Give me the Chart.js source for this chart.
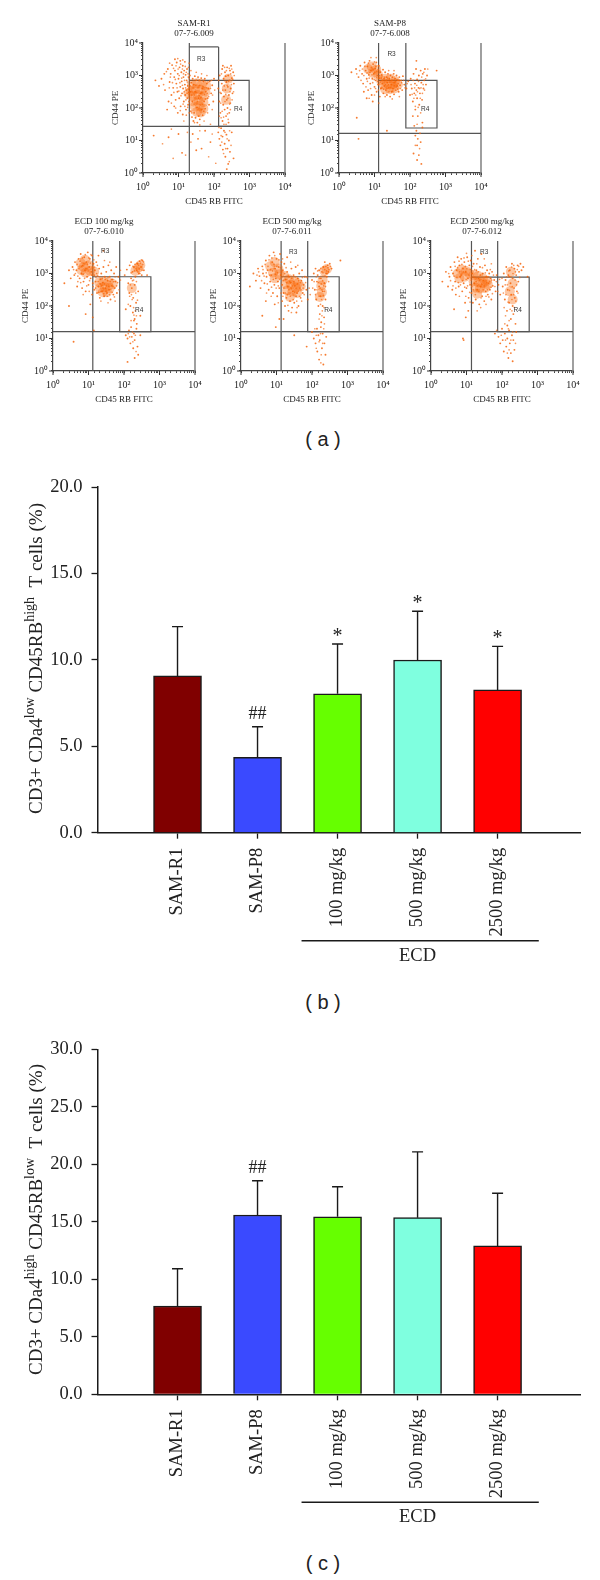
<!DOCTYPE html>
<html>
<head>
<meta charset="utf-8">
<title>CD44 / CD45RB T cells</title>
<script src="https://cdn.jsdelivr.net/npm/chart.js"></script>
<style>
  html, body { margin: 0; padding: 0; background: #fff; }
  #page { position: relative; width: 600px; height: 1580px; overflow: hidden; }
  #page canvas { position: absolute; }
  .caption { position: absolute; left: 273px; width: 100px; text-align: center; color: #222;
             font: 20px "Liberation Sans", sans-serif; white-space: pre; }
</style>
</head>
<body>
<div id="page">
  <div class="caption" style="top:428px">( a )</div>
  <div class="caption" style="top:991px">( b )</div>
  <div class="caption" style="top:1552px">( c )</div>
</div>
<script>
// bar panels
const categories = ["SAM-R1", "SAM-P8", "100 mg/kg", "500 mg/kg", "2500 mg/kg"];
const barColors  = ["#800000", "#3a4aff", "#66ff00", "#7fffdf", "#ff0000"];
const highValues = [9.07, 4.36, 8.04, 9.99, 8.26];
const highTops   = [11.92, 6.13, 10.92, 12.81, 10.78];
const highMarks  = ["", "##", "*", "*", "*"];
const lowValues  = [7.68, 15.59, 15.44, 15.36, 12.90];
const lowTops    = [10.92, 18.57, 18.05, 21.08, 17.48];
const lowMarks   = ["", "##", "", "", ""];
const highTitle  = [["CD3+ CDa4", 0], ["low", 1], [" CD45RB", 0], ["high", 1], ["  T cells (%)", 0]];
const lowTitle   = [["CD3+ CDa4", 0], ["high", 1], [" CD45RB", 0], ["low", 1], ["  T cells (%)", 0]];

// flow cytometry panels, dot positions are read as decades (log10) off the picture
const decadeLabels = ["10⁰", "10¹", "10²", "10³", "10⁴"];

const r1Core = [[1.38,2.72],[1.52,2.76],[1.66,2.74],[1.78,2.68],[1.36,2.52],[1.48,2.58],[1.62,2.56],[1.76,2.5],[1.4,2.36],[1.54,2.4],[1.68,2.36],[1.42,2.2],[1.56,2.24],[1.7,2.18],[1.46,2.04],[1.6,2.06],[1.7,1.98],[1.52,1.88],[1.63,1.86],[1.28,2.45],[2.36,2.6],[2.4,2.9],[2.34,2.25]];
const r1Dots = [
[0.52,2.9],[0.62,2.55],[0.7,3.2],[0.75,2.8],[0.78,3.05],[0.8,2.4],[0.82,3.32],[0.85,2.62],[0.88,2.95],[0.9,3.15],[0.92,2.25],[0.94,2.75],[0.95,3.4],[0.97,2.5],[0.98,3.05],
[1.0,2.9],[1.02,2.3],[1.03,3.25],[1.05,2.65],[1.06,2.05],[1.08,3.1],[1.09,2.82],[1.1,2.45],[1.12,3.3],[1.13,2.6],[1.14,2.95],[1.15,2.2],[1.16,3.15],[1.18,2.72],[1.19,2.4],[1.2,3.02],[1.21,1.95],[1.22,2.55],[1.23,2.85],[1.24,3.2],[1.25,2.3],[1.26,2.68],[1.27,2.1],[1.28,2.95],[1.29,2.48],
[0.88,2.05],[0.72,2.2],[0.6,3.05],[0.98,1.85],[1.12,1.8],[1.05,3.45],[0.9,3.5],[0.45,2.68],[0.68,1.95],[1.18,3.42],
[1.32,3.0],[1.34,2.5],[1.35,1.9],[1.36,2.78],[1.38,1.72],[1.39,2.2],[1.4,2.9],[1.42,1.6],[1.43,2.72],[1.44,1.85],[1.46,2.98],[1.47,2.5],[1.48,1.7],[1.5,2.85],[1.52,2.02],[1.53,1.55],[1.55,2.95],[1.56,2.3],[1.57,1.75],[1.59,2.85],[1.6,1.65],[1.62,2.45],[1.64,2.92],[1.65,1.95],[1.67,2.6],[1.68,1.78],[1.7,2.82],[1.72,2.2],[1.74,2.9],[1.75,1.98],[1.77,2.5],[1.8,2.75],[1.82,2.3],[1.84,2.6],[1.86,2.1],[1.88,2.82],[1.92,2.45],[1.95,2.7],[1.98,2.2],[2.0,2.9],
[2.12,2.6],[2.15,2.2],[2.16,3.0],[2.18,1.85],[2.2,2.45],[2.22,2.75],[2.23,3.2],[2.24,1.6],[2.26,2.1],[2.27,2.9],[2.28,2.35],[2.3,1.95],[2.31,3.1],[2.32,2.55],[2.34,1.75],[2.35,2.8],[2.36,2.25],[2.37,3.25],[2.38,2.0],[2.39,2.65],[2.4,3.0],[2.41,1.55],[2.42,2.4],[2.44,2.85],[2.45,3.15],[2.46,2.15],[2.47,2.6],[2.48,3.3],[2.5,2.92],[2.52,2.45],[2.54,3.1],[2.56,2.75],[2.25,3.3],[2.43,1.85],[2.33,2.98],
[1.4,1.2],[1.55,1.05],[1.75,1.3],[1.1,0.62],[1.5,0.7],[0.72,1.1],[1.9,0.95],[2.12,1.25],[2.15,1.05],[2.18,0.85],[2.2,1.38],[2.24,1.12],[2.25,0.72],[2.28,1.3],[2.3,0.9],[2.32,0.5],[2.35,1.18],[2.38,0.75],[2.4,0.28],[2.42,1.0],[2.45,0.65],[2.36,0.12],[2.5,1.25],[2.55,0.45],[0.35,2.85],[1.0,1.2],[0.3,1.15],[1.65,0.75]];
const r1Fine = [
[0.58,2.72],[0.66,3.12],[0.74,2.62],[0.77,2.95],[0.83,2.78],[0.86,3.22],[0.87,2.48],[0.91,2.88],[0.93,3.3],[0.96,2.62],[0.99,3.2],[1.01,2.52],[1.02,3.0],[1.04,2.78],[1.06,3.35],[1.07,2.38],[1.09,2.92],[1.11,2.7],[1.11,3.2],[1.13,2.12],[1.14,3.05],[1.16,2.5],[1.17,2.85],[1.19,3.28],[1.2,2.62],[1.21,2.25],[1.22,3.1],[1.24,2.45],[1.25,2.8],[1.26,2.02],[1.27,3.05],[1.28,2.58],[1.29,2.2],[1.3,2.9],[1.31,2.62],[0.8,2.15],[0.92,2.0],[1.05,1.92],[1.18,2.05],[0.75,3.38],[0.98,3.52],[1.12,3.48],[1.28,3.25],[1.3,3.38],[1.22,1.78],[1.15,1.6],[1.3,1.85],
[1.33,2.68],[1.37,2.4],[1.41,2.62],[1.44,2.12],[1.45,2.4],[1.49,2.7],[1.51,2.48],[1.53,2.2],[1.55,2.62],[1.58,2.38],[1.6,2.7],[1.61,2.1],[1.63,2.32],[1.66,2.48],[1.67,2.12],[1.69,2.66],[1.71,1.9],[1.73,2.42],[1.76,2.28],[1.78,2.62],[1.81,2.45],[1.83,2.8],[1.85,2.35],[1.9,2.6],[1.93,2.85],[1.96,2.4],[1.37,1.85],[1.45,1.55],[1.6,1.48],[1.72,1.6],[1.82,1.85],[1.95,1.95],[2.02,2.55],[1.9,1.5],[1.35,3.15],[1.5,3.1],[1.65,3.05],[1.8,3.0],
[2.13,2.85],[2.17,2.48],[2.19,2.15],[2.21,3.05],[2.23,1.9],[2.25,2.55],[2.27,1.72],[2.29,2.68],[2.3,3.25],[2.31,2.2],[2.33,2.42],[2.34,1.5],[2.35,3.15],[2.37,2.7],[2.38,1.82],[2.39,2.3],[2.41,2.82],[2.43,3.22],[2.44,2.12],[2.45,2.5],[2.46,1.95],[2.47,3.05],[2.49,2.72],[2.5,3.2],[2.51,2.25],[2.53,2.88],[2.55,2.5],[2.57,3.0],[2.2,1.7],[2.28,1.5],[2.4,1.65],[2.15,1.75],
[2.14,1.4],[2.2,1.15],[2.22,0.95],[2.27,0.6],[2.31,1.25],[2.33,0.75],[2.37,1.05],[2.43,0.35],[2.44,1.3],[2.48,0.85],[1.25,1.25],[1.6,1.3],[1.35,0.95],[1.2,0.55],[0.85,0.45],[1.85,0.5],[1.95,1.2],[2.05,0.3],[0.55,0.9],[0.8,1.35]];

const p8Core = [[1.18,2.85],[1.3,2.9],[1.45,2.9],[1.58,2.82],[1.25,2.72],[1.38,2.74],[1.52,2.72],[1.66,2.72],[1.3,2.58],[1.44,2.58],[1.56,2.6],[0.82,3.2],[0.92,3.28],[0.95,3.08],[1.05,3.18],[1.1,3.02]];
const p8Dots = [
[0.35,3.1],[0.48,3.2],[0.55,2.95],[0.6,3.3],[0.65,3.05],[0.68,2.75],[0.72,3.4],[0.75,3.15],[0.78,2.9],[0.8,3.28],[0.82,2.55],[0.84,3.02],[0.86,3.45],[0.88,2.75],[0.9,3.15],[0.92,2.4],[0.94,2.9],[0.96,3.35],[0.98,3.05],[1.0,2.65],[1.02,3.22],[1.03,2.85],[1.05,3.4],[1.06,2.5],[1.08,3.0],[1.1,2.72],[1.12,3.3],[1.13,2.92],[1.15,2.35],[1.16,3.1],[0.7,2.5],[0.95,2.2],[0.78,2.3],
[1.18,2.6],[1.2,3.02],[1.22,2.75],[1.24,3.18],[1.25,2.45],[1.27,2.9],[1.28,2.68],[1.3,3.1],[1.32,2.55],[1.34,2.95],[1.35,2.4],[1.36,2.78],[1.38,3.05],[1.4,2.62],[1.42,2.9],[1.44,2.35],[1.45,3.0],[1.47,2.72],[1.48,2.5],[1.5,2.95],[1.52,2.6],[1.54,3.05],[1.55,2.42],[1.57,2.78],[1.58,2.9],[1.6,2.55],[1.62,3.0],[1.64,2.68],[1.66,2.85],[1.68,2.5],[1.7,2.95],[1.72,2.7],[1.75,2.85],[1.78,2.55],[1.8,2.98],[1.84,2.72],[1.9,2.6],[1.95,2.82],
[2.0,2.4],[2.02,2.9],[2.05,2.6],[2.08,2.2],[2.1,3.05],[2.12,2.45],[2.14,2.75],[2.15,1.95],[2.17,3.2],[2.18,2.55],[2.2,2.3],[2.2,2.88],[2.22,1.75],[2.24,2.62],[2.25,3.0],[2.26,2.1],[2.28,2.45],[2.3,3.15],[2.32,2.78],[2.34,2.25],[2.35,1.55],[2.36,3.05],[2.38,2.6],[2.4,2.85],[2.42,3.2],[2.45,2.72],[2.48,3.0],[2.18,3.45],[2.75,3.15],
[2.08,1.75],[2.12,1.45],[2.15,1.15],[2.18,1.3],[2.2,0.85],[2.22,1.05],[2.25,0.55],[2.28,1.22],[2.3,0.95],[2.32,0.28],[2.1,0.6],[2.35,1.4],[2.2,0.4],[0.5,1.7],[0.55,1.05],[1.35,1.3]];
const p8Fine = [
[0.5,3.05],[0.58,3.15],[0.62,2.85],[0.66,3.2],[0.7,3.0],[0.73,3.28],[0.76,2.65],[0.79,3.08],[0.8,2.82],[0.83,3.38],[0.85,2.92],[0.87,3.1],[0.89,2.6],[0.91,3.25],[0.93,3.02],[0.95,2.78],[0.97,3.18],[0.99,2.88],[1.0,3.42],[1.01,3.1],[1.03,2.6],[1.04,3.28],[1.06,2.95],[1.07,3.12],[1.09,2.82],[1.1,3.18],[1.11,2.55],[1.14,3.0],[0.85,2.3],[1.0,2.4],[1.12,2.15],[0.9,3.55],[1.05,3.55],
[1.17,2.8],[1.19,2.92],[1.21,2.62],[1.23,2.85],[1.26,2.58],[1.29,2.95],[1.31,2.72],[1.33,2.85],[1.35,2.6],[1.37,2.92],[1.39,2.72],[1.41,2.5],[1.43,2.8],[1.46,2.62],[1.49,2.85],[1.51,2.52],[1.53,2.78],[1.56,2.68],[1.59,2.82],[1.61,2.65],[1.63,2.88],[1.65,2.58],[1.67,2.75],[1.69,2.85],[1.73,2.6],[1.76,2.78],[1.82,2.85],[1.86,2.62],[1.92,2.75],[1.4,3.15],[1.55,3.15],[1.3,2.35],[1.5,2.28],[1.7,2.35],
[2.03,2.72],[2.06,2.42],[2.09,2.85],[2.11,2.3],[2.13,2.62],[2.16,2.4],[2.19,2.7],[2.21,2.5],[2.23,2.02],[2.24,2.82],[2.27,2.6],[2.29,2.3],[2.31,2.62],[2.33,2.95],[2.35,2.45],[2.37,2.72],[2.39,3.1],[2.41,2.55],[2.44,2.9],[2.5,3.2],[2.15,2.05],[2.3,1.85],[2.2,1.5],[2.27,0.75],[2.15,0.85]];

const e100Core = [[0.78,3.32],[0.9,3.42],[1.02,3.25],[0.86,3.2],[1.05,3.08],[0.92,3.02],[0.8,3.1],[1.16,3.05],[1.3,2.72],[1.42,2.76],[1.56,2.72],[1.68,2.68],[1.32,2.55],[1.46,2.58],[1.6,2.55],[1.4,2.42],[1.52,2.42],[2.32,3.08],[2.4,3.18],[2.46,3.25],[2.22,2.55]];
const e100Dots = [
[0.32,2.7],[0.45,3.1],[0.5,2.85],[0.55,3.2],[0.6,2.95],[0.62,3.35],[0.66,3.1],[0.68,2.6],[0.72,3.45],[0.75,2.85],[0.78,3.6],[0.8,3.0],[0.82,2.55],[0.84,3.25],[0.86,2.75],[0.88,3.5],[0.9,3.1],[0.92,2.45],[0.94,3.35],[0.96,2.9],[0.98,3.65],[1.0,2.65],[1.02,3.2],[1.04,3.45],[1.06,2.85],[1.08,3.05],[1.1,2.35],[1.1,3.55],[1.12,2.7],[1.14,3.3],[1.16,2.95],[0.92,1.75],[1.05,2.05],[1.12,1.65],[1.15,1.25],[0.45,2.0],[0.58,0.9],
[1.16,2.5],[1.18,3.1],[1.2,2.75],[1.22,3.35],[1.24,2.4],[1.26,2.92],[1.28,2.6],[1.3,3.15],[1.32,2.25],[1.34,2.82],[1.36,3.0],[1.38,2.45],[1.4,2.72],[1.42,3.2],[1.44,2.3],[1.46,2.9],[1.48,2.55],[1.5,3.05],[1.52,2.4],[1.54,2.78],[1.56,3.25],[1.58,2.5],[1.6,2.9],[1.62,2.2],[1.64,3.1],[1.66,2.62],[1.68,2.82],[1.7,2.35],[1.72,3.0],[1.74,2.55],[1.76,2.75],[1.78,3.2],[1.8,2.4],[1.84,2.9],[1.28,3.55],[1.42,3.7],
[2.02,2.95],[2.08,3.12],[2.12,2.7],[2.15,2.4],[2.16,3.25],[2.18,2.0],[2.2,2.85],[2.22,2.55],[2.24,3.05],[2.25,1.8],[2.26,2.25],[2.28,3.2],[2.3,2.65],[2.3,1.6],[2.32,2.9],[2.34,2.1],[2.36,3.1],[2.36,1.45],[2.38,3.3],[2.4,2.45],[2.42,3.0],[2.44,3.38],[2.46,1.7],[2.48,3.2],[2.5,2.95],[2.52,3.4],[2.56,3.1],[2.65,2.95],[2.2,3.35],[2.05,1.9],[2.28,1.55],
[2.05,1.1],[2.1,1.0],[2.14,1.25],[2.18,0.85],[2.2,1.35],[2.22,1.05],[2.26,0.7],[2.28,1.15],[2.3,0.95],[2.35,1.3],[2.38,0.75],[2.4,0.5],[2.3,0.4],[2.1,0.28],[2.46,1.1]];
const e100Fine = [
[0.58,3.12],[0.63,3.0],[0.68,3.28],[0.7,2.92],[0.73,3.15],[0.76,3.38],[0.78,2.72],[0.81,3.22],[0.83,3.48],[0.85,2.98],[0.87,3.3],[0.89,2.85],[0.91,3.58],[0.93,3.15],[0.95,2.62],[0.97,3.28],[0.99,3.08],[1.01,3.48],[1.03,2.78],[1.05,3.32],[1.07,3.58],[1.09,2.95],[1.11,3.2],[1.13,2.6],[1.15,3.42],[0.85,2.35],[1.02,2.45],[0.7,2.75],[1.17,3.2],[1.2,2.55],[1.23,3.0],[1.25,3.25],
[1.21,2.88],[1.27,2.75],[1.29,2.42],[1.31,2.9],[1.33,2.68],[1.35,2.45],[1.37,2.62],[1.39,2.85],[1.41,2.55],[1.43,2.38],[1.45,2.68],[1.47,2.82],[1.49,2.45],[1.51,2.62],[1.53,2.3],[1.55,2.88],[1.57,2.6],[1.59,2.35],[1.61,2.75],[1.63,2.52],[1.65,2.82],[1.67,2.42],[1.69,2.6],[1.71,2.75],[1.73,2.28],[1.75,2.9],[1.79,2.62],[1.82,2.72],[1.86,2.5],[1.9,2.8],[1.35,2.15],[1.55,2.1],[1.75,2.15],[1.45,3.4],[1.6,3.35],[1.9,3.1],
[2.2,3.02],[2.25,3.22],[2.27,2.8],[2.29,3.08],[2.31,3.28],[2.33,2.4],[2.34,3.15],[2.35,2.75],[2.37,3.32],[2.38,2.18],[2.39,3.05],[2.41,3.25],[2.43,3.15],[2.45,3.0],[2.47,3.32],[2.49,3.42],[2.51,3.1],[2.53,3.28],[2.55,3.36],[2.18,2.65],[2.21,2.35],[2.24,2.78],[2.27,1.95],[2.23,2.2],[2.32,1.85],[2.35,1.7],[2.28,1.72],[2.2,1.55],[2.16,2.3],[2.12,2.05],
[2.12,1.15],[2.16,1.05],[2.24,1.2],[2.32,1.1],[2.25,0.9],[2.34,0.6]];

const e500Core = [[0.82,3.22],[0.95,3.35],[1.05,3.15],[0.9,3.02],[1.08,2.98],[0.95,2.85],[1.22,2.92],[1.35,2.82],[1.5,2.78],[1.6,2.7],[1.26,2.68],[1.4,2.65],[1.54,2.58],[1.68,2.6],[1.3,2.48],[1.45,2.45],[1.58,2.4],[1.38,2.28],[2.26,2.62],[2.28,2.42],[2.22,2.28],[2.35,3.08],[2.42,3.14],[2.3,2.8]];
const e500Dots = [
[0.25,2.6],[0.35,3.0],[0.42,2.78],[0.48,3.15],[0.52,2.92],[0.55,2.55],[0.6,3.22],[0.62,3.0],[0.66,2.7],[0.7,3.4],[0.72,2.9],[0.75,3.1],[0.78,2.5],[0.8,3.55],[0.82,2.75],[0.85,2.95],[0.88,3.35],[0.9,2.4],[0.92,3.65],[0.94,2.65],[0.96,3.15],[0.98,2.85],[1.0,3.45],[1.02,2.3],[1.04,2.75],[1.06,3.2],[1.08,2.55],[1.1,3.6],[1.12,2.95],[1.14,3.35],[1.16,2.15],[0.95,2.05],[0.7,2.15],[0.6,1.7],[0.98,1.35],[1.08,1.6],
[1.16,2.65],[1.18,3.1],[1.2,2.4],[1.22,3.3],[1.24,2.0],[1.26,2.82],[1.28,2.25],[1.3,3.05],[1.32,2.6],[1.34,1.85],[1.36,2.9],[1.38,2.15],[1.4,2.72],[1.42,3.15],[1.44,1.95],[1.46,2.45],[1.48,2.95],[1.5,2.1],[1.52,2.62],[1.54,3.2],[1.56,1.8],[1.58,2.4],[1.6,2.85],[1.62,2.0],[1.64,3.0],[1.66,2.55],[1.68,2.25],[1.7,2.78],[1.72,3.1],[1.74,2.4],[1.76,2.65],[1.8,2.9],[1.84,2.5],[1.88,2.2],[1.3,3.5],[1.55,2.3],[1.2,1.6],[1.5,1.1],
[2.0,2.8],[2.05,3.0],[2.08,2.5],[2.1,3.15],[2.12,2.2],[2.14,2.75],[2.16,2.95],[2.18,2.0],[2.2,2.6],[2.2,3.1],[2.22,1.75],[2.24,2.3],[2.25,2.85],[2.26,1.5],[2.28,3.05],[2.3,2.45],[2.3,2.0],[2.32,3.2],[2.34,1.65],[2.35,2.7],[2.36,3.35],[2.38,2.2],[2.4,3.0],[2.42,2.9],[2.44,3.25],[2.46,3.05],[2.5,3.3],[2.55,3.15],[2.8,3.4],
[2.0,1.2],[2.05,1.0],[2.1,0.85],[2.14,1.3],[2.15,0.6],[2.18,1.1],[2.2,0.35],[2.22,0.95],[2.25,1.35],[2.28,0.7],[2.3,1.15],[2.32,0.2],[2.35,0.85],[2.38,0.5],[2.4,1.05],[1.85,0.75]];
const e500Fine = [
[0.45,2.95],[0.5,3.05],[0.58,2.78],[0.62,3.12],[0.65,2.92],[0.68,3.28],[0.71,3.02],[0.74,2.68],[0.76,3.22],[0.79,3.42],[0.81,2.95],[0.83,3.12],[0.86,2.58],[0.87,3.48],[0.89,3.08],[0.91,2.82],[0.93,3.28],[0.95,3.55],[0.97,2.98],[0.99,2.55],[1.01,3.22],[1.03,3.02],[1.05,2.62],[1.07,3.42],[1.09,2.82],[1.11,3.18],[1.13,2.4],[1.15,3.05],[1.17,3.45],[0.85,2.3],[1.05,2.1],[1.18,2.3],[0.72,2.4],
[1.19,2.78],[1.21,2.55],[1.23,3.0],[1.25,2.4],[1.27,3.18],[1.29,2.72],[1.31,2.35],[1.33,2.92],[1.35,2.5],[1.37,2.75],[1.39,2.3],[1.41,2.55],[1.43,2.85],[1.45,2.62],[1.47,2.2],[1.49,2.75],[1.51,2.42],[1.53,2.9],[1.55,2.55],[1.57,2.15],[1.59,2.68],[1.61,2.45],[1.63,2.78],[1.65,2.3],[1.67,2.72],[1.69,2.5],[1.71,2.15],[1.73,2.88],[1.75,2.55],[1.78,2.35],[1.82,2.72],[1.86,2.88],[1.92,2.55],[1.95,2.35],[1.32,2.02],[1.42,1.8],[1.58,1.95],[1.4,3.35],[1.6,3.25],
[2.02,2.55],[2.06,2.75],[2.1,2.35],[2.12,2.9],[2.14,2.5],[2.16,3.08],[2.18,2.72],[2.2,2.3],[2.21,2.85],[2.23,2.55],[2.24,2.05],[2.25,3.15],[2.26,2.68],[2.27,2.2],[2.28,2.5],[2.29,1.85],[2.3,2.78],[2.31,3.02],[2.32,2.32],[2.33,2.62],[2.34,1.95],[2.35,2.45],[2.36,3.12],[2.37,2.92],[2.38,2.6],[2.39,3.22],[2.41,3.08],[2.43,3.0],[2.45,3.18],[2.47,2.75],[2.48,3.12],[2.52,3.22],[2.2,1.6],[2.28,1.7],[2.35,1.45],
[2.08,1.3],[2.12,1.1],[2.2,0.9],[2.24,1.15],[2.26,0.5],[2.3,0.85],[2.33,1.3],[2.25,0.25],[2.12,0.7]];

const e2500Core = [[0.75,3.0],[0.86,3.12],[0.98,3.08],[0.8,2.85],[0.95,2.9],[1.08,3.0],[1.2,2.95],[1.33,2.92],[1.46,2.85],[1.58,2.78],[1.2,2.76],[1.33,2.72],[1.46,2.7],[1.6,2.66],[1.25,2.56],[1.38,2.54],[1.52,2.55],[1.3,2.38],[2.25,3.05],[2.3,2.7],[2.22,2.45],[2.3,2.2]];
const e2500Dots = [
[0.32,2.75],[0.42,3.05],[0.48,2.6],[0.52,2.9],[0.55,3.2],[0.6,2.5],[0.62,3.0],[0.66,3.35],[0.68,2.75],[0.7,2.35],[0.72,3.1],[0.75,3.5],[0.78,2.6],[0.8,3.25],[0.82,2.9],[0.85,3.45],[0.88,2.45],[0.9,3.15],[0.92,2.7],[0.94,3.35],[0.96,2.1],[0.98,3.05],[1.0,2.55],[1.02,3.5],[1.04,2.85],[1.06,2.25],[1.08,3.25],[1.1,2.65],[1.12,3.4],[0.98,1.65],[1.05,1.85],[0.92,0.95],[0.65,1.9],
[1.14,2.4],[1.16,3.0],[1.18,2.1],[1.2,3.3],[1.22,2.7],[1.24,3.7],[1.26,2.2],[1.28,3.1],[1.3,2.5],[1.32,3.45],[1.34,2.85],[1.36,2.05],[1.38,3.2],[1.4,2.6],[1.42,3.6],[1.44,2.3],[1.46,3.0],[1.48,2.78],[1.5,2.15],[1.52,3.25],[1.54,2.45],[1.56,2.9],[1.58,3.1],[1.6,2.35],[1.62,2.7],[1.64,3.0],[1.66,2.5],[1.68,2.85],[1.7,2.2],[1.72,3.05],[1.74,2.62],[1.78,2.8],[1.82,2.45],[1.85,2.95],[1.9,2.65],[1.95,2.35],
[2.02,2.6],[2.05,3.0],[2.08,2.2],[2.1,2.8],[2.12,3.2],[2.14,1.85],[2.16,2.5],[2.18,2.95],[2.2,2.1],[2.22,3.1],[2.24,2.7],[2.25,1.6],[2.26,2.35],[2.28,3.3],[2.3,2.0],[2.3,2.85],[2.32,1.75],[2.34,2.55],[2.35,3.15],[2.36,2.25],[2.38,1.45],[2.4,2.95],[2.42,2.45],[2.44,3.25],[2.46,2.75],[2.48,3.05],[2.52,3.3],[2.55,3.1],[2.6,3.2],[2.72,2.9],[2.2,2.9],[2.15,1.4],
[1.8,1.15],[1.9,1.05],[1.95,0.85],[2.0,1.3],[2.02,0.95],[2.05,0.6],[2.08,1.15],[2.12,0.75],[2.15,1.0],[2.18,0.4],[2.2,1.25],[2.22,0.85],[2.25,0.55],[2.28,1.1],[2.3,0.3],[2.32,0.95],[2.35,0.65],[2.4,1.2],[0.9,1.0]];
const e2500Fine = [
[0.5,3.0],[0.55,2.78],[0.58,3.1],[0.62,2.62],[0.65,2.92],[0.68,3.22],[0.7,2.55],[0.73,2.88],[0.75,3.18],[0.77,2.72],[0.79,3.38],[0.81,3.05],[0.83,2.65],[0.85,2.95],[0.87,3.28],[0.89,2.78],[0.91,3.05],[0.93,3.48],[0.95,2.58],[0.97,3.22],[0.99,2.82],[1.01,3.15],[1.03,2.62],[1.05,3.38],[1.07,2.95],[1.09,2.42],[1.11,3.12],[1.13,2.8],[0.8,2.3],[0.98,2.3],[1.1,2.12],[1.0,3.62],[1.15,3.55],
[1.15,2.6],[1.17,3.22],[1.19,2.5],[1.21,2.88],[1.23,3.12],[1.25,2.35],[1.27,2.75],[1.29,3.3],[1.31,2.62],[1.33,3.05],[1.35,2.45],[1.37,2.8],[1.39,2.95],[1.41,2.25],[1.43,2.68],[1.45,3.18],[1.47,2.5],[1.49,2.88],[1.51,2.62],[1.53,3.02],[1.55,2.3],[1.57,2.72],[1.59,2.5],[1.61,2.9],[1.63,2.28],[1.65,2.75],[1.67,3.12],[1.69,2.58],[1.71,2.8],[1.73,2.38],[1.76,2.95],[1.8,2.6],[1.84,2.75],[1.88,2.45],[1.93,2.82],[1.4,1.95],[1.55,2.05],[1.3,1.85],[1.5,3.45],[1.7,3.3],
[2.0,2.85],[2.04,2.4],[2.06,1.95],[2.09,2.65],[2.11,2.35],[2.13,2.9],[2.15,2.65],[2.17,2.12],[2.19,3.08],[2.21,2.48],[2.23,1.9],[2.25,2.9],[2.27,3.2],[2.28,2.2],[2.29,2.6],[2.31,3.0],[2.33,2.35],[2.33,3.25],[2.35,1.95],[2.37,2.8],[2.38,3.05],[2.39,2.15],[2.41,2.65],[2.43,3.12],[2.45,2.4],[2.47,3.22],[2.5,2.88],[2.1,1.7],[2.2,1.55],[2.28,1.85],[2.18,1.3],[2.08,1.45],
[1.85,1.25],[1.98,1.1],[2.1,0.95],[2.15,0.55],[2.25,0.95],[2.3,1.2],[2.2,0.65],[2.38,0.85]];

const facsTitles = [["SAM-R1", "07-7-6.009"], ["SAM-P8", "07-7-6.008"], ["ECD 100 mg/kg", "07-7-6.010"], ["ECD 500 mg/kg", "07-7-6.011"], ["ECD 2500 mg/kg", "07-7-6.012"]];

// gate lines in decades: x of the quadrant, y of the quadrant, R3 right, R4 right, R3/R4 split, R3 top, R4 bottom
const r1Gate    = [1.305, 1.436, 2.13, 2.99, 2.85, 3.88, 1.436];
const p8Gate    = [1.115, 1.22, 1.883, 2.76, 2.85, 4, 1.385];
const e100Gate  = [1.121, 1.213, 1.879, 2.757, 2.9, 4, 1.213];
const e500Gate  = [1.13, 1.213, 1.879, 2.766, 2.9, 4, 1.213];
const e2500Gate = [1.14, 1.213, 1.878, 2.766, 2.89, 4, 1.213];

// gate label anchors in decades
const r1Labels    = [[1.64, 3.51], [2.68, 1.97]];
const p8Labels    = [[1.48, 3.64], [2.43, 1.95]];
const e100Labels  = [[1.47, 3.68], [2.43, 1.87]];
const e500Labels  = [[1.47, 3.66], [2.46, 1.86]];
const e2500Labels = [[1.50, 3.66], [2.44, 1.86]];

const serif = '"Liberation Serif", serif';

function toPoints(list) {
    return list.map((p) => ({x: Math.pow(10, p[0]), y: Math.pow(10, p[1])}));
}

function addCanvas(left, top, width, height) {
    const canvas = document.createElement("canvas");
    canvas.width = width;
    canvas.height = height;
    canvas.style.left = left + "px";
    canvas.style.top = top + "px";
    canvas.style.width = width + "px";
    canvas.style.height = height + "px";
    document.getElementById("page").appendChild(canvas);
    return canvas;
}

function decadeTick(v) {
    const i = Math.round(Math.log10(v) * 1e6) / 1e6;
    return Number.isInteger(i) ? decadeLabels[i] : "";
}

/* longer ticks on the decades and the R3, R4 names */
const facsExtras = {
    id: "facsExtras",
    afterDatasetsDraw(chart, args, opts) {
        const ctx = chart.ctx;
        const sx = chart.scales.x, sy = chart.scales.y;
        ctx.save();
        ctx.strokeStyle = "#333";
        ctx.lineWidth = 1;
        decadeLabels.forEach((label, i) => {
            const v = Math.pow(10, i);
            ctx.beginPath();
            ctx.moveTo(sx.getPixelForValue(v), sy.bottom);
            ctx.lineTo(sx.getPixelForValue(v), sy.bottom + 4);
            ctx.moveTo(sx.left, sy.getPixelForValue(v));
            ctx.lineTo(sx.left - 4, sy.getPixelForValue(v));
            ctx.stroke();
        });
        ctx.fillStyle = "#333";
        ctx.font = '6.5px "Liberation Sans", sans-serif';
        ctx.textAlign = "center";
        ctx.textBaseline = "middle";
        ["R3", "R4"].forEach((name, i) => {
            ctx.fillText(name, sx.getPixelForValue(Math.pow(10, opts.labels[i][0])), sy.getPixelForValue(Math.pow(10, opts.labels[i][1])));
        });
        ctx.restore();
    }
};

function facsChart(axisLeft, plotTop, title, dots, fine, core, gate, labels) {
    const pad = 40, plotWidth = 142, plotHeight = 130;
    const canvas = addCanvas(axisLeft - pad, plotTop - 32, plotWidth + 2 * pad, 32 + plotHeight + 37);
    const gx = gate[0], gy = gate[1], r3 = gate[2], r4 = gate[3], split = gate[4], top = gate[5], low = gate[6];
    const gateLines = [
        [[gx, 0], [gx, 4]],
        [[0, gy], [4, gy]],
        [[4, 0], [4, 4]],
        [[gx, split], [r4, split], [r4, low], [r3, low], [r3, top]]
    ];
    if (top < 4) { gateLines.push([[gx, top], [r3, top]]); }
    const lineSets = gateLines.map((line, i) => ({
        data: toPoints(line),
        showLine: true,
        borderColor: i === 2 ? "#888" : "#555",
        borderWidth: i === 2 ? 1.6 : 1.2,
        pointRadius: 0,
        clip: false
    }));
    new Chart(canvas, {
        type: "scatter",
        data: {
            datasets: [
                {data: toPoints(core), backgroundColor: "rgba(250,100,0,0.36)", pointRadius: 5, pointBorderWidth: 0},
                {data: toPoints(fine), backgroundColor: "rgba(245,105,20,0.7)", pointRadius: 0.85, pointBorderWidth: 0},
                {data: toPoints(dots), backgroundColor: "rgba(245,100,10,0.85)", pointRadius: 0.95, pointBorderWidth: 0}
            ].concat(lineSets)
        },
        options: {
            responsive: false,
            animation: false,
            layout: {padding: {top: 0, left: 0, right: pad, bottom: 0}},
            plugins: {
                legend: {display: false},
                tooltip: {enabled: false},
                title: {display: true, text: title, color: "#222", padding: {top: 8, bottom: 4},
                    font: {family: serif, size: 9, lineHeight: 1.11, weight: "normal"}},
                facsExtras: {labels: labels}
            },
            scales: {
                x: {
                    type: "logarithmic", min: 1, max: 10000,
                    grid: {drawOnChartArea: false, tickLength: 2, tickColor: "#444"},
                    border: {color: "#444", width: 1.2},
                    ticks: {autoSkip: false, maxRotation: 0, padding: 6, color: "#222", font: {family: serif, size: 10}, callback: decadeTick},
                    title: {display: true, text: "CD45 RB FITC", color: "#222", padding: 3, font: {family: serif, size: 9}},
                    afterFit: (s) => { s.height = 37; s.paddingLeft = 0; s.paddingRight = 0; }
                },
                y: {
                    type: "logarithmic", min: 1, max: 10000,
                    grid: {drawOnChartArea: false, tickLength: 2, tickColor: "#444"},
                    border: {color: "#444", width: 1.2},
                    ticks: {autoSkip: false, padding: 3, color: "#222", font: {family: serif, size: 10}, callback: decadeTick},
                    title: {display: true, text: "CD44 PE", color: "#222", padding: 7, font: {family: serif, size: 9}},
                    afterFit: (s) => { s.width = pad; s.paddingTop = 0; s.paddingBottom = 0; }
                }
            }
        },
        plugins: [facsExtras]
    });
}

/* error bars, marks over them, the ECD bracket and the y title with its superscripts */
const barExtras = {
    id: "barExtras",
    afterDatasetsDraw(chart, args, opts) {
        const ctx = chart.ctx;
        const sx = chart.scales.x, sy = chart.scales.y;
        ctx.save();
        ctx.strokeStyle = "#1a1a1a";
        ctx.fillStyle = "#222";
        ctx.lineWidth = 1.4;
        ctx.textAlign = "center";
        ctx.textBaseline = "alphabetic";
        opts.values.forEach((value, i) => {
            const x = sx.getPixelForValue(i);
            const yTop = sy.getPixelForValue(opts.tops[i]);
            ctx.beginPath();
            ctx.moveTo(x, sy.getPixelForValue(value));
            ctx.lineTo(x, yTop);
            ctx.moveTo(x - 5.5, yTop);
            ctx.lineTo(x + 5.5, yTop);
            ctx.stroke();
            if (opts.marks[i] === "*") {
                ctx.font = "20px " + serif;
                ctx.fillText("*", x, yTop - 2);
            }
            if (opts.marks[i] === "##") {
                ctx.font = "18px " + serif;
                ctx.fillText("##", x, yTop - 8);
            }
        });

        const yLine = sy.bottom + 108;
        ctx.lineWidth = 1.5;
        ctx.beginPath();
        ctx.moveTo(sx.getPixelForValue(1.55), yLine);
        ctx.lineTo(sx.getPixelForValue(4.515), yLine);
        ctx.stroke();
        ctx.font = "18.5px " + serif;
        ctx.fillText("ECD", sx.getPixelForValue(3), yLine + 20);

        ctx.translate(41.5, opts.titleStart);
        ctx.rotate(-Math.PI / 2);
        ctx.textAlign = "left";
        let offset = 0;
        opts.title.forEach((part) => {
            ctx.font = (part[1] ? "14px " : "19px ") + serif;
            ctx.fillText(part[0], offset, part[1] ? -8 : 0);
            offset += ctx.measureText(part[0]).width;
        });
        ctx.restore();
    }
};

function barChart(top, plotTop, plotBottom, yMax, values, tops, marks, title, titleStart) {
    const height = 510;
    const canvas = addCanvas(0, top, 600, height);
    new Chart(canvas, {
        type: "bar",
        data: {
            datasets: [{
                data: values.map((v, i) => ({x: i, y: v})),
                backgroundColor: barColors,
                borderColor: "#1a1a1a",
                borderWidth: 1.5,
                barThickness: 48
            }]
        },
        options: {
            responsive: false,
            animation: false,
            layout: {padding: {top: plotTop - top, left: 0, right: 20, bottom: 0}},
            plugins: {
                legend: {display: false},
                tooltip: {enabled: false},
                barExtras: {values: values, tops: tops, marks: marks, title: title, titleStart: titleStart - top}
            },
            scales: {
                x: {
                    type: "linear", min: -1, max: 5.03, offset: false,
                    grid: {drawOnChartArea: false, tickLength: 6, tickColor: "#1a1a1a", tickWidth: 1.3, offset: false},
                    border: {color: "#1a1a1a", width: 1.5},
                    afterBuildTicks: (s) => { s.ticks = categories.map((c, i) => ({value: i})); },
                    ticks: {
                        autoSkip: false, minRotation: 90, maxRotation: 90, padding: 9, color: "#222",
                        font: {family: serif, size: 18.5},
                        callback: (v) => categories[v]
                    },
                    afterFit: (s) => { s.height = height - (plotBottom - top); s.paddingLeft = 0; s.paddingRight = 0; }
                },
                y: {
                    min: 0, max: yMax,
                    grid: {drawOnChartArea: false, tickLength: 6, tickColor: "#1a1a1a", tickWidth: 1.3},
                    border: {color: "#1a1a1a", width: 1.5},
                    ticks: {stepSize: 5, padding: 9, color: "#222", font: {family: serif, size: 18.5}, callback: (v) => v.toFixed(1)},
                    afterFit: (s) => { s.width = 97.5; s.paddingTop = 0; s.paddingBottom = 0; }
                }
            }
        },
        plugins: [barExtras]
    });
}

facsChart(143.3, 43.3, facsTitles[0], r1Dots, r1Fine, r1Core, r1Gate, r1Labels);
facsChart(338.7, 43.3, facsTitles[1], p8Dots, p8Fine, p8Core, p8Gate, p8Labels);
facsChart(53.3, 241.3, facsTitles[2], e100Dots, e100Fine, e100Core, e100Gate, e100Labels);
facsChart(240.7, 241.3, facsTitles[3], e500Dots, e500Fine, e500Core, e500Gate, e500Labels);
facsChart(431.3, 241.3, facsTitles[4], e2500Dots, e2500Fine, e2500Core, e2500Gate, e2500Labels);

barChart(470, 487, 832.7, 20, highValues, highTops, highMarks, highTitle, 814);
barChart(1030, 1049.3, 1394.3, 30, lowValues, lowTops, lowMarks, lowTitle, 1375);
</script>
</body>
</html>
